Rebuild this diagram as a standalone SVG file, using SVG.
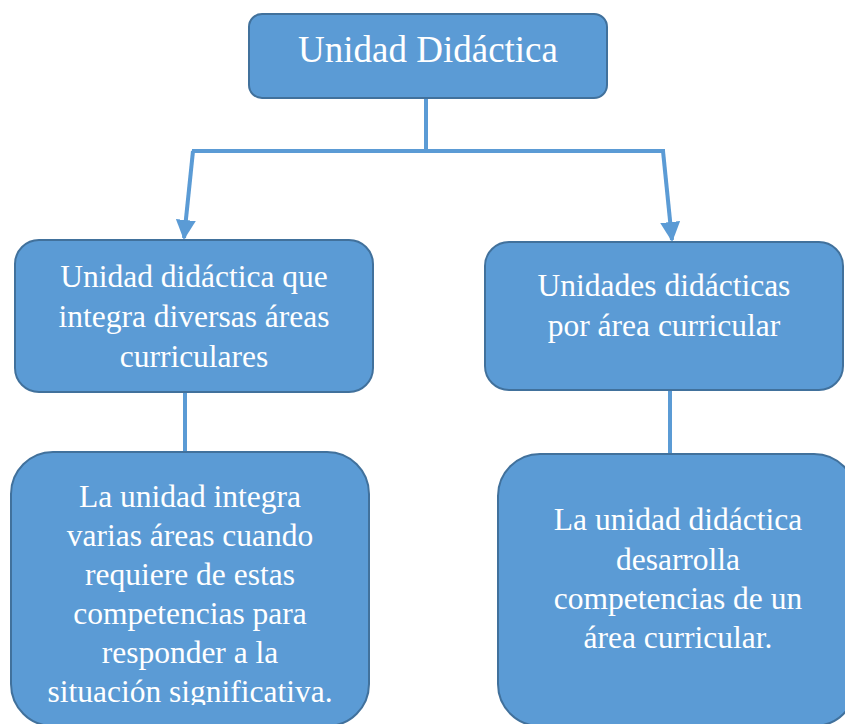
<svg xmlns="http://www.w3.org/2000/svg" width="845" height="724" viewBox="0 0 845 724">
<style>
.box{fill:#5B9BD5;stroke:#41719C;stroke-width:2}
.t{font-family:"Liberation Serif","Times New Roman",serif;fill:#ffffff;text-anchor:middle}
.c{stroke:#5B9BD5;stroke-width:4;fill:none}
</style>
<defs>
<marker id="ah" markerWidth="5" markerHeight="5" refX="4.5" refY="2.5" orient="auto" markerUnits="strokeWidth">
<path d="M0,0 L5,2.5 L0,5 Z" fill="#5B9BD5"/>
</marker>
<clipPath id="clipL"><rect x="0" y="440" width="400" height="265"/></clipPath>
</defs>
<rect width="845" height="724" fill="#ffffff"/>
<g id="connectors">
<polyline class="c" points="426,98 426,151"/>
<polyline class="c" points="192,151 665,151"/>
<polyline class="c" points="193,151 184,238" marker-end="url(#ah)"/>
<polyline class="c" points="663,151 672,240" marker-end="url(#ah)"/>
<line class="c" x1="185" y1="392" x2="185" y2="453"/>
<line class="c" x1="670" y1="390" x2="670" y2="455"/>
</g>
<g id="n1">
<rect class="box" x="249" y="14" width="358" height="84" rx="13"/>
<text class="t" x="428" y="62" font-size="37">Unidad Didáctica</text>
</g>
<g id="n2">
<rect class="box" x="15" y="240" width="358" height="152" rx="24"/>
<text class="t" font-size="31.5"><tspan x="194" y="287">Unidad didáctica que</tspan><tspan x="194" y="327">integra diversas áreas</tspan><tspan x="194" y="367">curriculares</tspan></text>
</g>
<g id="n3">
<rect class="box" x="485" y="242" width="358" height="148" rx="24"/>
<text class="t" font-size="31.5"><tspan x="664" y="296">Unidades didácticas</tspan><tspan x="664" y="336">por área curricular</tspan></text>
</g>
<g id="n4">
<rect class="box" x="11" y="452" width="358" height="274" rx="42"/>
<text class="t" font-size="31.5" clip-path="url(#clipL)"><tspan x="190" y="507">La unidad integra</tspan><tspan x="190" y="546">varias áreas cuando</tspan><tspan x="190" y="585">requiere de estas</tspan><tspan x="190" y="624">competencias para</tspan><tspan x="190" y="663">responder a la</tspan><tspan x="190" y="702">situación significativa.</tspan></text>
</g>
<g id="n5">
<rect class="box" x="498" y="454" width="358" height="272" rx="42"/>
<text class="t" font-size="31.5"><tspan x="678" y="530">La unidad didáctica</tspan><tspan x="678" y="570">desarrolla</tspan><tspan x="678" y="609">competencias de un</tspan><tspan x="678" y="648">área curricular.</tspan></text>
</g>
</svg>
